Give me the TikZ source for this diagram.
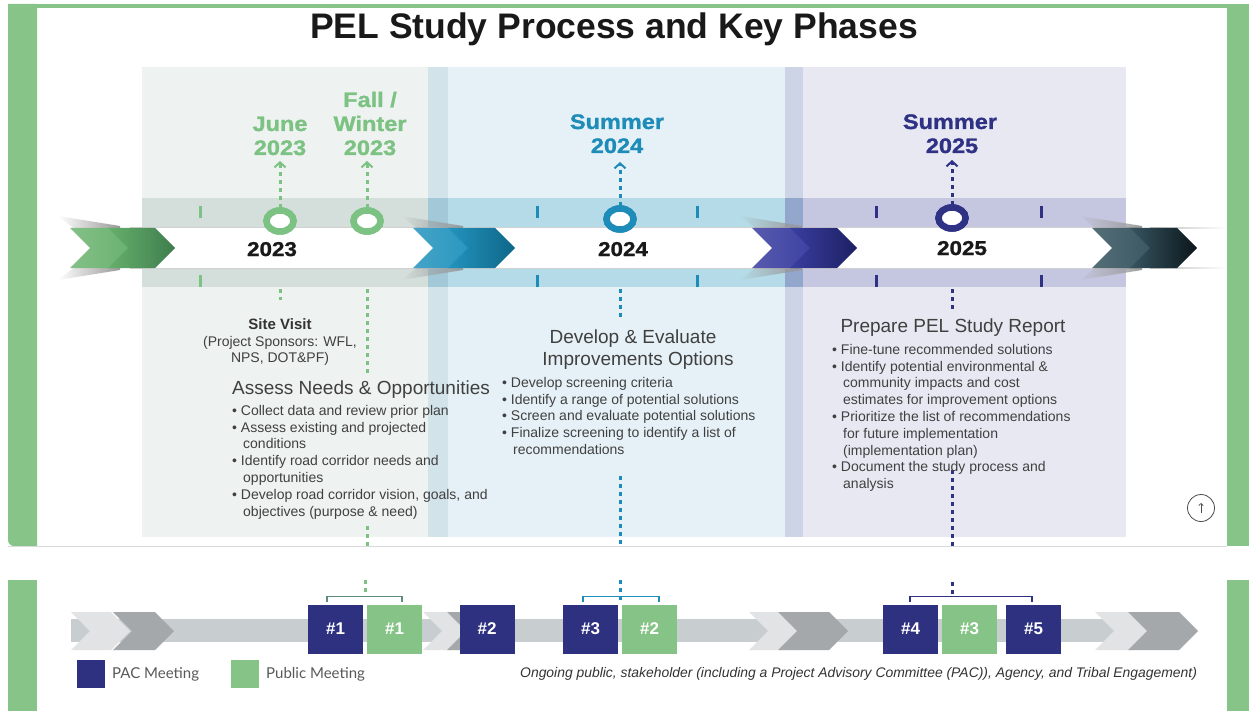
\documentclass[tikz,border=0pt]{standalone}
\usepackage{fontspec}
\setmainfont{Liberation Sans}
\newfontfamily\blackfont[FakeStretch=1.12,FakeBold=1.2]{Liberation Sans}
\newfontfamily\latofont{Lato}
\usetikzlibrary{shapes.geometric,arrows.meta,calc,fadings}

\definecolor{frameG}{HTML}{86C488}
\definecolor{cGreen}{HTML}{7CC283}
\definecolor{cTeal}{HTML}{1E8CB8}
\definecolor{cNavy}{HTML}{2E3184}
\definecolor{bgA}{HTML}{EEF2F1}
\definecolor{bandA}{HTML}{D4DFDC}
\definecolor{divA}{HTML}{D3E3EA}
\definecolor{divAband}{HTML}{A3C9D8}
\definecolor{bgB}{HTML}{E6F1F7}
\definecolor{bandB}{HTML}{B4DBE7}
\definecolor{divB}{HTML}{CCD4E6}
\definecolor{divBband}{HTML}{93A6CB}
\definecolor{bgC}{HTML}{E8E8F3}
\definecolor{bandC}{HTML}{C5C6DF}
\definecolor{txt}{HTML}{404040}
\definecolor{barG}{HTML}{C8CDD0}
\definecolor{chevL}{HTML}{E1E3E4}
\definecolor{chevD}{HTML}{A5A8AA}
\definecolor{pacC}{HTML}{2E3080}
\definecolor{pubC}{HTML}{86C386}
\definecolor{brkG}{HTML}{5F8C7F}
\definecolor{gL}{HTML}{66B06B}
\definecolor{gD}{HTML}{3E7D4E}
\definecolor{tL}{HTML}{2494BE}
\definecolor{tD}{HTML}{0E6688}
\definecolor{nL}{HTML}{3A3EA0}
\definecolor{nD}{HTML}{1D2063}
\definecolor{kL}{HTML}{375560}
\definecolor{kD}{HTML}{0B161B}

% chevron: colour spec, x0, ytop, ybot, flat length, point depth
\newcommand{\Chev}[6]{%
  \path[#1] (#2,#3) -- ({#2+#5},#3) -- ({#2+#5+#6},{(#3+#4)/2}) -- ({#2+#5},#4) -- (#2,#4) -- ({#2+#6},{(#3+#4)/2}) -- cycle;}
% shadow streaks of an upper chevron group: x0
\newcommand{\ChevShadow}[1]{%
  \fill[black!40, path fading=west] ({#1-12},216) -- ({#1+50},226) -- ({#1+50},228.5) -- ({#1+4},228.5) -- cycle;
  \fill[black!40, path fading=west] ({#1-12},280) -- ({#1+50},270) -- ({#1+50},267.5) -- ({#1+4},267.5) -- cycle;}

\tikzset{
  dotbase/.style={line width=3pt, dash pattern=on 4pt off 4pt},
  dotG/.style={dotbase, draw=cGreen},
  dotT/.style={dotbase, draw=cTeal},
  dotN/.style={dotbase, draw=cNavy},
  uparrow/.style={-{Straight Barb[length=5pt,width=11pt,line width=2pt]}},
  ring/.style={ellipse, draw=#1, line width=6.5pt, fill=white, minimum width=27pt, minimum height=21pt, inner sep=0pt},
  datelbl/.style={font=\blackfont\bfseries\fontsize{21}{24}\selectfont, anchor=base, text=#1, inner sep=0pt},
  yearlbl/.style={font=\blackfont\bfseries\fontsize{20}{22}\selectfont, anchor=base, text=black!90, inner sep=0pt},
  tickmark/.style={line width=3pt, draw=#1},
  heading/.style={font=\fontsize{19}{22}\selectfont, text=txt, inner sep=0pt},
  bullets/.style={font=\fontsize{14}{16.8}\selectfont, text=txt, align=left, anchor=north west, inner sep=0pt},
  meet/.style={minimum width=55pt, minimum height=49pt, inner sep=0pt, fill=#1, text=white, font=\bfseries\fontsize{17}{20}\selectfont},
  legsq/.style={minimum width=28pt, minimum height=28pt, inner sep=0pt, fill=#1},
  legtxt/.style={font=\latofont\fontsize{15}{18}\selectfont, text=black!65, anchor=west, inner sep=0pt},
  bracket/.style={line width=1.6pt, draw=#1},
}

\begin{document}
\begin{tikzpicture}[x=1pt,y=-1pt]
\useasboundingbox (0,0) rectangle (1249,711);
\fill[white] (0,0) rectangle (1249,711);

% ---------------- upper panel frame ----------------
\fill[frameG] (8,4) -- (37,4) -- (37,546) -- (14,546) arc[start angle=90, end angle=180, radius=6] -- cycle;
\fill[frameG] (8,4) rectangle (1249,8);
\fill[frameG] (1227,4) rectangle (1249,546);
\draw[black!15, line width=1pt] (8,546.5) -- (1227,546.5);

% ---------------- title ----------------
\node[font=\bfseries\fontsize{35.5}{40}\selectfont, anchor=base, text=black!90, inner sep=0pt] (title) at (614,38.5) {PEL Study Process and Key Phases};

% ---------------- phase backgrounds ----------------
\fill[bgA] (142,67) rectangle (428,537);
\fill[divA] (428,67) rectangle (448,537);
\fill[bgB] (448,67) rectangle (785,537);
\fill[divB] (785,67) rectangle (803,537);
\fill[bgC] (803,67) rectangle (1126,537);
\fill[bandA] (142,198) rectangle (428,287);
\fill[divAband] (428,198) rectangle (448,287);
\fill[bandB] (448,198) rectangle (785,287);
\fill[divBband] (785,198) rectangle (803,287);
\fill[bandC] (803,198) rectangle (1126,287);

% ---------------- white timeline ribbon ----------------
\fill[white] (130,228) rectangle (1140,268);
\draw[black!18, line width=1.2pt] (130,227.5) -- (1140,227.5);
\draw[black!18, line width=1.2pt] (130,268.5) -- (1140,268.5);
\fill[black!25, path fading=east] (1150,227) rectangle (1227,229.5);
\fill[black!25, path fading=east] (1150,266.5) rectangle (1227,269);

% chevron shadows
\ChevShadow{70}
\ChevShadow{413}
\ChevShadow{752}
\ChevShadow{1092}

% chevrons (light back, dark front)
\Chev{left color=gL!80, right color=gL}{70}{228}{268}{47}{20}
\Chev{left color=gL, right color=gD}{108}{228}{268}{47}{20}
\Chev{left color=tL!85, right color=tL}{413}{228}{268}{47}{20}
\Chev{left color=tL, right color=tD}{448}{228}{268}{47}{20}
\Chev{left color=nL!85, right color=nL}{752}{228}{268}{47}{20}
\Chev{left color=nL, right color=nD}{790}{228}{268}{47}{20}
\Chev{left color=kL!85, right color=kL}{1092}{228}{268}{47}{20}
\Chev{left color=kL, right color=kD}{1130}{228}{268}{47}{20}

% tick marks
\foreach \x/\c in {200/cGreen,537/cTeal,697/cTeal,876/cNavy,1041/cNavy}{
  \draw[tickmark=\c] (\x,206) -- (\x,218);
  \draw[tickmark=\c] (\x,275) -- (\x,287);
}

% year labels on ribbon
\node[yearlbl] (y23) at (272,256) {2023};
\node[yearlbl] (y24) at (623,256) {2024};
\node[yearlbl] (y25) at (962,255) {2025};

% ---------------- milestones ----------------
\coordinate (tA) at (280,161);
\coordinate (tB) at (367,161);
\coordinate (tC) at (620,162);
\coordinate (tD) at (952,160);
\node[ring=cGreen] (rA) at (280,221) {};
\node[ring=cGreen] (rB) at (367,221) {};
\node[ring=cTeal] (rC) at (620,219) {};
\node[ring=cNavy] (rD) at (952,218) {};
\draw[dotG, uparrow] ([yshift=-1pt]rA.north) -- (tA);
\draw[dotG, uparrow] ([yshift=-1pt]rB.north) -- (tB);
\draw[dotT, uparrow] ([yshift=-1pt]rC.north) -- (tC);
\draw[dotN, uparrow] ([yshift=-1pt]rD.north) -- (tD);
% redraw rings on top of the dotted stems
\node[ring=cGreen] at (rA) {};
\node[ring=cGreen] at (rB) {};
\node[ring=cTeal] at (rC) {};
\node[ring=cNavy] at (rD) {};

% date labels
\node[datelbl=cGreen] (dA1) at (280,131) {June};
\node[datelbl=cGreen] (dA2) at (280,155) {2023};
\node[datelbl=cGreen] (dB0) at (370,107) {Fall /};
\node[datelbl=cGreen] (dB1) at (370,131) {Winter};
\node[datelbl=cGreen] (dB2) at (370,155) {2023};
\node[datelbl=cTeal] (dC1) at (617,129) {Summer};
\node[datelbl=cTeal] (dC2) at (617,153) {2024};
\node[datelbl=cNavy] (dD1) at (950,129) {Summer};
\node[datelbl=cNavy] (dD2) at (952,153) {2025};

% downward dotted connectors
\coordinate (gA1) at (280,289); \coordinate (gA2) at (280,300);
\coordinate (gB1) at (367,289); \coordinate (gB2) at (367,376);
\coordinate (gB3) at (367,526); \coordinate (gB4) at (367,546);
\coordinate (tC1) at (620,289); \coordinate (tC2) at (620,318);
\coordinate (tC3) at (620,476); \coordinate (tC4) at (620,546);
\coordinate (nD1) at (952,289); \coordinate (nD2) at (952,312);
\coordinate (nD3) at (952,470); \coordinate (nD4) at (952,546);
\draw[dotG] (gA1) -- (gA2);
\draw[dotG] (gB1) -- (gB2);
\draw[dotG] (gB3) -- (gB4);
\draw[dotT] (tC1) -- (tC2);
\draw[dotT] (tC3) -- (tC4);
\draw[dotN] (nD1) -- (nD2);
\draw[dotN] (nD3) -- (nD4);

% ---------------- phase 1 text ----------------
\node[font=\bfseries\fontsize{15}{18}\selectfont, text=black!80, anchor=base, inner sep=0pt] (sv) at (280,329.5) {Site Visit};
\node[font=\fontsize{14}{16.8}\selectfont, text=txt, anchor=base, inner sep=0pt] (sv1) at (280,346) {(Project Sponsors: WFL,};
\node[font=\fontsize{14}{16.8}\selectfont, text=txt, anchor=base, inner sep=0pt] (sv2) at (280,362) {NPS, DOT\&PF)};
\node[heading, anchor=base west] (hA) at (232,394) {Assess Needs \& Opportunities};
\node[bullets] (bA) at (232,405) {%
\textbullet\ Collect data and review prior plan\\
\textbullet\ Assess existing and projected\\
\hspace*{11pt}conditions\\
\textbullet\ Identify road corridor needs and\\
\hspace*{11pt}opportunities\\
\textbullet\ Develop road corridor vision, goals, and\\
\hspace*{11pt}objectives (purpose \& need)};

% ---------------- phase 2 text ----------------
\node[heading, anchor=base] (hB1) at (633,343) {Develop \& Evaluate};
\node[heading, anchor=base] (hB2) at (638,365) {Improvements Options};
\node[bullets] (bB) at (502,377) {%
\textbullet\ Develop screening criteria\\
\textbullet\ Identify a range of potential solutions\\
\textbullet\ Screen and evaluate potential solutions\\
\textbullet\ Finalize screening to identify a list of\\
\hspace*{11pt}recommendations};

% ---------------- phase 3 text ----------------
\node[heading, anchor=base] (hC) at (953,332) {Prepare PEL Study Report};
\node[bullets] (bC) at (832,344) {%
\textbullet\ Fine-tune recommended solutions\\
\textbullet\ Identify potential environmental \&\\
\hspace*{11pt}community impacts and cost\\
\hspace*{11pt}estimates for improvement options\\
\textbullet\ Prioritize the list of recommendations\\
\hspace*{11pt}for future implementation\\
\hspace*{11pt}(implementation plan)\\
\textbullet\ Document the study process and\\
\hspace*{11pt}analysis};

% scroll-to-top icon
\node[circle, draw=black!70, line width=0.8pt, minimum size=27pt, inner sep=0pt] (topbtn) at (1201,508) {};
\draw[black!70, line width=0.7pt, -{Straight Barb[length=2.2pt,width=4.5pt]}] ([yshift=-5pt]topbtn.center) -- ([yshift=5pt]topbtn.center);

% ---------------- lower panel ----------------
\fill[frameG] (8,580) rectangle (37,711);
\fill[frameG] (1227,580) rectangle (1249,711);

\fill[barG] (71,619) rectangle (1180,642);
\Chev{fill=chevL}{71}{612}{650}{40}{19}
\Chev{fill=chevD}{113}{612}{650}{42}{19}
\Chev{fill=chevL}{423}{612}{650}{40}{19}
\Chev{fill=chevD}{447}{612}{650}{40}{19}
\Chev{fill=chevL}{749}{612}{650}{47}{19}
\Chev{fill=chevD}{778}{612}{650}{51}{19}
\Chev{fill=chevL}{1095}{612}{650}{40}{19}
\Chev{fill=chevD}{1128}{612}{650}{51}{19}

\node[meet=pacC] (p1) at (335.5,629) {\#1};
\node[meet=pubC] (g1) at (394.5,629) {\#1};
\node[meet=pacC] (p2) at (487,629) {\#2};
\node[meet=pacC] (p3) at (590.5,629) {\#3};
\node[meet=pubC] (g2) at (649.5,629) {\#2};
\node[meet=pacC] (p4) at (910.5,629) {\#4};
\node[meet=pubC] (g3) at (969.5,629) {\#3};
\node[meet=pacC] (p5) at (1033.5,629) {\#5};

\draw[bracket=brkG] ([xshift=-8.5pt,yshift=2pt]p1.north) -- ++(0,-6) -| ([xshift=7.5pt,yshift=2pt]g1.north);
\draw[bracket=cTeal] ([xshift=-7.5pt,yshift=2pt]p3.north) -- ++(0,-6) -| ([xshift=9.5pt,yshift=2pt]g2.north);
\draw[bracket=cNavy] ([xshift=-0.5pt,yshift=2pt]p4.north) -- ++(0,-6) -| ([xshift=-1.5pt,yshift=2pt]p5.north);

\coordinate (lg1) at (365,580); \coordinate (lg2) at (365,593);
\coordinate (lt1) at (620,580); \coordinate (lt2) at (620,601);
\coordinate (ln1) at (952,582); \coordinate (ln2) at (952,594);
\draw[dotG] (lg1) -- (lg2);
\draw[dotT] (lt1) -- (lt2);
\draw[dotN] (ln1) -- (ln2);

% legend
\node[legsq=pacC] (lp) at (91,674) {};
\node[legtxt] (lpt) at (112,674) {PAC Meeting};
\node[legsq=pubC] (lq) at (244.5,674) {};
\node[legtxt] (lqt) at (266,674) {Public Meeting};

\node[font=\itshape\fontsize{13.9}{16}\selectfont, text=black!80, anchor=base west, inner sep=0pt] (ongoing) at (520,677) {Ongoing public, stakeholder (including a Project Advisory Committee (PAC)), Agency, and Tribal Engagement)};
\end{tikzpicture}
\end{document}
